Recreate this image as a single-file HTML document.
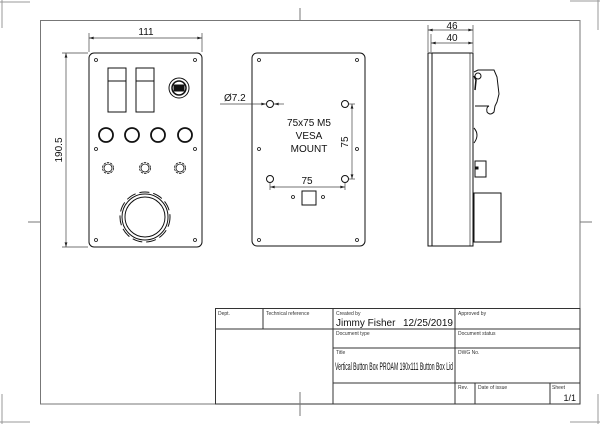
<!DOCTYPE html>
<html><head><style>
html,body{margin:0;padding:0;background:#fff;}
svg{display:block;font-family:"Liberation Sans",sans-serif;}
</style></head><body>
<svg width="600" height="424" viewBox="0 0 600 424" xmlns="http://www.w3.org/2000/svg">
<defs>
<marker id="a" viewBox="0 0 10 6" refX="10" refY="3" markerWidth="7" markerHeight="4" orient="auto-start-reverse"><path d="M0,0L10,3L0,6z" fill="#222"/></marker>
</defs>
<g stroke="#999" stroke-width="1" fill="none">
<path d="M2,0V28M0,2H30M598,0V30M570,1H600M598,394V424M570,422H600M2,394V424M0,422H30"/>
</g>
<rect x="40.5" y="20.5" width="539.5" height="383.5" fill="none" stroke="#777" stroke-width="1"/>
<g stroke="#777" stroke-width="1">
<line x1="300" y1="8" x2="300" y2="20"/><line x1="300" y1="404" x2="300" y2="416"/>
<line x1="28" y1="222" x2="40" y2="222"/><line x1="580" y1="222" x2="592" y2="222"/>
</g>

<!-- Left view -->
<g stroke="#111" fill="none" stroke-width="1">
<rect x="89" y="53" width="113" height="194" rx="5"/>
<g stroke-width="0.8">
<circle cx="96" cy="60" r="1.5"/><circle cx="195" cy="60" r="1.5"/>
<circle cx="96" cy="149" r="1.5"/><circle cx="195" cy="149" r="1.5"/>
<circle cx="96" cy="240" r="1.5"/><circle cx="195" cy="240" r="1.5"/>
</g>
<rect x="108" y="68" width="18" height="44"/><line x1="108" y1="81" x2="126" y2="81"/>
<rect x="136" y="68" width="18" height="44"/><line x1="136" y1="81" x2="154" y2="81"/>
<circle cx="179" cy="88" r="10"/><circle cx="179" cy="88" r="7" stroke-width="1.5"/>
<rect x="174" y="85" width="10" height="6" fill="#111"/>
<g stroke-width="1.8">
<circle cx="106" cy="135" r="7"/><circle cx="132" cy="135" r="7"/><circle cx="158" cy="135" r="7"/><circle cx="185" cy="135" r="7"/>
</g>
<g stroke-width="0.8">
<circle cx="108" cy="168" r="5.5" stroke-dasharray="2.5 1"/><circle cx="108" cy="168" r="4"/>
<circle cx="145" cy="168" r="5.5" stroke-dasharray="2.5 1"/><circle cx="145" cy="168" r="4"/>
<circle cx="180" cy="168" r="5.5" stroke-dasharray="2.5 1"/><circle cx="180" cy="168" r="4"/>
</g>
<circle cx="145" cy="217" r="25" stroke-dasharray="10 4"/>
<circle cx="145" cy="217" r="23"/>
<circle cx="145" cy="217" r="20"/>
</g>
<g stroke="#444" stroke-width="0.7" fill="none">
<line x1="89" y1="52" x2="89" y2="33"/><line x1="202" y1="52" x2="202" y2="33"/>
<line x1="89" y1="38" x2="202" y2="38" marker-start="url(#a)" marker-end="url(#a)"/>
<line x1="88" y1="53" x2="62" y2="53"/><line x1="88" y1="247" x2="62" y2="247"/>
<line x1="66" y1="53" x2="66" y2="247" marker-start="url(#a)" marker-end="url(#a)"/>
</g>
<text x="146" y="35" font-size="10" text-anchor="middle" fill="#111">111</text>
<text x="0" y="0" font-size="10" text-anchor="middle" fill="#111" transform="translate(62,150) rotate(-90)">190.5</text>

<!-- Middle view -->
<g stroke="#111" fill="none" stroke-width="1">
<rect x="252" y="53" width="113" height="193" rx="5"/>
<g stroke-width="0.8">
<circle cx="259" cy="60" r="1.5"/><circle cx="357" cy="60" r="1.5"/>
<circle cx="259" cy="149" r="1.5"/><circle cx="357" cy="149" r="1.5"/>
<circle cx="259" cy="240" r="1.5"/><circle cx="357" cy="240" r="1.5"/>
<circle cx="293" cy="197" r="1.5"/><circle cx="323" cy="197" r="1.5"/>
</g>
<circle cx="270" cy="104" r="3.5"/><circle cx="345" cy="104" r="3.5"/>
<circle cx="270" cy="179" r="3.5"/><circle cx="345" cy="179" r="3.5"/>
<rect x="302" y="191" width="14" height="14"/>
</g>
<g stroke="#444" stroke-width="0.7" fill="none">
<line x1="220" y1="104" x2="266" y2="104" marker-end="url(#a)"/>
<line x1="284" y1="104" x2="274" y2="104" marker-end="url(#a)"/>
<line x1="349" y1="104" x2="355" y2="104"/><line x1="349" y1="179" x2="355" y2="179"/>
<line x1="352" y1="104" x2="352" y2="179" marker-start="url(#a)" marker-end="url(#a)"/>
<line x1="270" y1="183" x2="270" y2="190"/><line x1="345" y1="183" x2="345" y2="190"/>
<line x1="270" y1="187" x2="345" y2="187" marker-start="url(#a)" marker-end="url(#a)"/>
</g>
<text x="224" y="101" font-size="10" fill="#111">Ø7.2</text>
<g font-size="10" fill="#111" text-anchor="middle">
<text x="309" y="126">75x75 M5</text>
<text x="309" y="139">VESA</text>
<text x="309" y="152">MOUNT</text>
<text x="307" y="184">75</text>
<text transform="translate(348,142) rotate(-90)">75</text>
</g>

<!-- Right view -->
<g stroke="#111" fill="none" stroke-width="1">
<rect x="428" y="53" width="45" height="193"/>
<line x1="432" y1="53" x2="432" y2="246"/>
<line x1="470" y1="53" x2="470" y2="246" stroke-width="0.6"/>
<path d="M474,72 L478,70 L494,70 L497,77 L499,94 L497,102 L495,106 L494,112 Q490,116 487,112 Q486,107 489,106 L475,106"/>
<circle cx="478" cy="76" r="3"/>
<path d="M474,76 L476,80 L475,90" stroke-width="1.5"/>
<path d="M474,128 Q480,135 474,143"/>
<rect x="475" y="161" width="11" height="16"/>
<rect x="476" y="167" width="2" height="2" fill="#111"/>
<rect x="474" y="193" width="27" height="49"/>
</g>
<g stroke="#444" stroke-width="0.7" fill="none">
<line x1="428" y1="52" x2="428" y2="25"/><line x1="473" y1="52" x2="473" y2="25"/>
<line x1="431" y1="52" x2="431" y2="34"/>
<line x1="428" y1="30" x2="473" y2="30" marker-start="url(#a)" marker-end="url(#a)"/>
<line x1="431" y1="43" x2="473" y2="43" marker-start="url(#a)" marker-end="url(#a)"/>
</g>
<text x="452" y="29" font-size="10" text-anchor="middle" fill="#111">46</text>
<text x="452" y="41" font-size="10" text-anchor="middle" fill="#111">40</text>

<!-- Title block -->
<g stroke="#333" stroke-width="1" fill="none">
<rect x="215.5" y="308.5" width="364.5" height="95.5"/>
<line x1="215" y1="329" x2="580" y2="329"/>
<line x1="333" y1="348" x2="580" y2="348"/>
<line x1="333" y1="383" x2="580" y2="383"/>
<line x1="263" y1="308" x2="263" y2="329"/>
<line x1="333" y1="308" x2="333" y2="404"/>
<line x1="455" y1="308" x2="455" y2="404"/>
<line x1="475" y1="383" x2="475" y2="404"/>
<line x1="550" y1="383" x2="550" y2="404"/>
<line x1="300" y1="392" x2="300" y2="414" stroke="#777"/>
</g>
<g font-size="5" fill="#333">
<text x="218" y="315">Dept.</text>
<text x="266" y="315">Technical reference</text>
<text x="336" y="315">Created by</text>
<text x="458" y="315">Approved by</text>
<text x="336" y="335">Document type</text>
<text x="458" y="335">Document status</text>
<text x="336" y="354">Title</text>
<text x="458" y="354">DWG No.</text>
<text x="458" y="389">Rev.</text>
<text x="478" y="389">Date of issue</text>
<text x="552" y="389">Sheet</text>
</g>
<text x="336" y="326" font-size="10" fill="#111">Jimmy Fisher</text>
<text x="453" y="326" font-size="10" fill="#111" text-anchor="end">12/25/2019</text>
<text x="335" y="370" font-size="11" fill="#111" textLength="118" lengthAdjust="spacingAndGlyphs">Vertical Button Box PROAM 190x111 Button Box Lid</text>
<text x="576" y="401" font-size="9" fill="#111" text-anchor="end">1/1</text>
</svg>
</body></html>
